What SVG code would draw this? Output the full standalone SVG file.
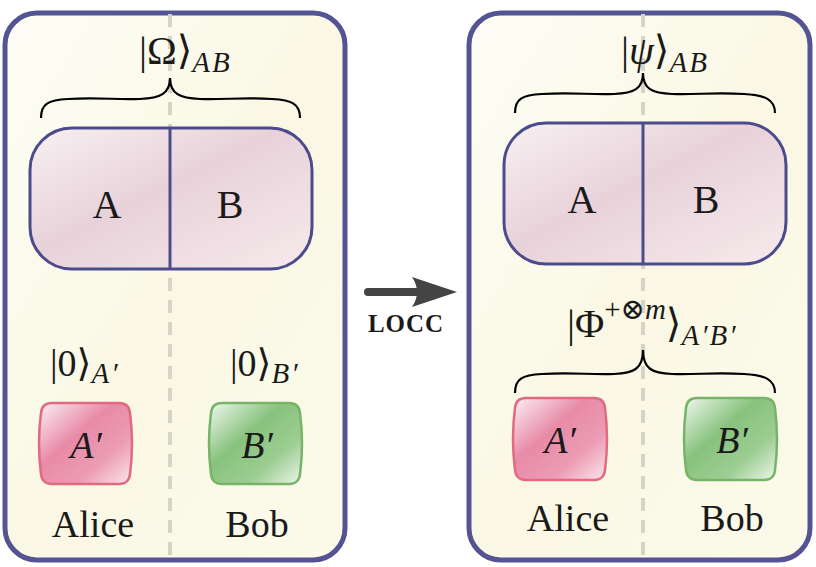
<svg xmlns="http://www.w3.org/2000/svg" width="816" height="567" viewBox="0 0 816 567">
<style>
.panel{stroke:#545494;stroke-width:5;fill:url(#bg)}
.div{stroke:#d6d4c4;stroke-width:4;stroke-dasharray:13,9;fill:none}
.pair{fill:url(#mauve);stroke:#4c4c8c;stroke-width:3}
.sep{stroke:#4c4c8c;stroke-width:3}
.brace{fill:none;stroke:#000;stroke-width:2.2}
.t{font-family:'Liberation Serif','Times New Roman','DejaVu Serif',Times,serif;fill:#1a1a1a}
.big{font-size:40px}
.lbl{font-size:38px}
.it{font-style:italic}
.sub{font-size:29px;font-style:italic;letter-spacing:2px}
.pink{fill:url(#pinkg);stroke:#e26a80;stroke-width:2.5}
.green{fill:url(#greeng);stroke:#78b468;stroke-width:2.5}
</style>
<defs>
<linearGradient id="bg" x1="0" y1="0" x2="1" y2="1">
<stop offset="0" stop-color="#fdfdf6"/>
<stop offset="0.5" stop-color="#faf8e4"/>
<stop offset="1" stop-color="#fbfaea"/>
</linearGradient>
<linearGradient id="mauve" x1="0" y1="0" x2="1" y2="1">
<stop offset="0" stop-color="#f8f0f2"/>
<stop offset="0.45" stop-color="#e8d2da"/>
<stop offset="1" stop-color="#f6eaec"/>
</linearGradient>
<linearGradient id="pinkg" x1="0" y1="0" x2="1" y2="1">
<stop offset="0" stop-color="#fbf0f4"/>
<stop offset="0.4" stop-color="#e88aa8"/>
<stop offset="0.7" stop-color="#ec9cb4"/>
<stop offset="1" stop-color="#fbe8ee"/>
</linearGradient>
<linearGradient id="greeng" x1="0" y1="0" x2="1" y2="1">
<stop offset="0" stop-color="#f0f8ee"/>
<stop offset="0.4" stop-color="#88c27e"/>
<stop offset="0.7" stop-color="#9ccd92"/>
<stop offset="1" stop-color="#eef7ec"/>
</linearGradient>
</defs>

<g id="left-panel">
<rect class="panel" x="5" y="13" width="340" height="547" rx="32"/>
<line class="div" x1="170" y1="14" x2="170" y2="558"/>
</g>
<g id="right-panel">
<rect class="panel" x="469" y="13" width="341" height="547" rx="32"/>
<line class="div" x1="643" y1="14" x2="643" y2="558"/>
</g>

<g id="left-AB">
<rect class="pair" x="30" y="128" width="282" height="141" rx="42"/>
<line class="sep" x1="170" y1="128" x2="170" y2="269"/>
<text class="t big" x="107" y="218" text-anchor="middle">A</text>
<text class="t big" x="230" y="218" text-anchor="middle">B</text>
</g>
<g id="left-omega">
<path class="brace" d="M41,118 C41,104 48,100 68,99 C100,97 115,100 140,99 C160,98 170,94 170,78 C170,94 180,98 200,99 C225,100 240,97 272,99 C292,100 300,104 300,118"/>
<text class="t big" x="139" y="64">|Ω⟩<tspan class="sub" dy="8">AB</tspan></text>
</g>

<g id="left-Aprime">
<text class="t lbl" x="50" y="376">|0⟩<tspan class="sub" dy="7">A′</tspan></text>
<path class="pink" d="M52,403 L119,403 Q129,403 130,413 Q134,443 130,474 Q129,484 119,484 L52,484 Q42,484 41,474 Q37,443 41,413 Q42,403 52,403 Z"/>
<text class="t lbl it" x="86" y="458" text-anchor="middle">A′</text>
<text class="t lbl" x="93" y="537" text-anchor="middle">Alice</text>
</g>
<g id="left-Bprime">
<text class="t lbl" x="230" y="376">|0⟩<tspan class="sub" dy="7">B′</tspan></text>
<path class="green" d="M222,403 L289,403 Q299,403 300,413 Q304,443 300,474 Q299,484 289,484 L222,484 Q212,484 211,474 Q207,443 211,413 Q212,403 222,403 Z"/>
<text class="t lbl it" x="257" y="458" text-anchor="middle">B′</text>
<text class="t lbl" x="257" y="537" text-anchor="middle">Bob</text>
</g>

<g id="right-AB">
<rect class="pair" x="504" y="123" width="282" height="141" rx="42"/>
<line class="sep" x1="643" y1="123" x2="643" y2="264"/>
<text class="t big" x="582" y="213" text-anchor="middle">A</text>
<text class="t big" x="706" y="213" text-anchor="middle">B</text>
</g>
<g id="right-psi">
<path class="brace" d="M515,113 C515,99 522,95 542,94 C574,92 589,95 614,94 C634,93 643,89 643,73 C643,89 652,93 672,94 C697,95 712,92 744,94 C764,95 775,99 775,113"/>
<text class="t big" x="621" y="64">|<tspan class="it">ψ</tspan>⟩<tspan class="sub" dy="8">AB</tspan></text>
</g>

<g id="right-phi">
<text class="t big" x="567" y="337">|Φ<tspan font-size="29" dy="-18">+⊗</tspan><tspan font-size="29" class="it">m</tspan><tspan dy="18">⟩</tspan><tspan class="sub" dy="8">A′B′</tspan></text>
<path class="brace" d="M515,393 C515,379 522,375 542,374 C574,372 589,375 614,374 C634,373 643,369 643,350 C643,369 652,373 672,374 C697,375 712,372 744,374 C764,375 775,379 775,393"/>
</g>
<g id="right-Aprime">
<path class="pink" d="M526,398 L594,398 Q604,398 605,408 Q609,439 605,470 Q604,480 594,480 L526,480 Q516,480 515,470 Q511,439 515,408 Q516,398 526,398 Z"/>
<text class="t lbl it" x="560" y="453" text-anchor="middle">A′</text>
<text class="t lbl" x="568" y="531" text-anchor="middle">Alice</text>
</g>
<g id="right-Bprime">
<path class="green" d="M697,398 L764,398 Q774,398 775,408 Q779,439 775,470 Q774,480 764,480 L697,480 Q687,480 686,470 Q682,439 686,408 Q687,398 697,398 Z"/>
<text class="t lbl it" x="732" y="453" text-anchor="middle">B′</text>
<text class="t lbl" x="732" y="531" text-anchor="middle">Bob</text>
</g>

<g id="connectors">
<line x1="368" y1="292" x2="420" y2="292" stroke="#444" stroke-width="8" stroke-linecap="round"/>
<path d="M457,292 L412,277 Q422,292 412,307 Z" fill="#444"/>
<text class="t" x="406" y="332" text-anchor="middle" font-size="25" font-weight="bold" letter-spacing="1">LOCC</text>
</g>
</svg>
